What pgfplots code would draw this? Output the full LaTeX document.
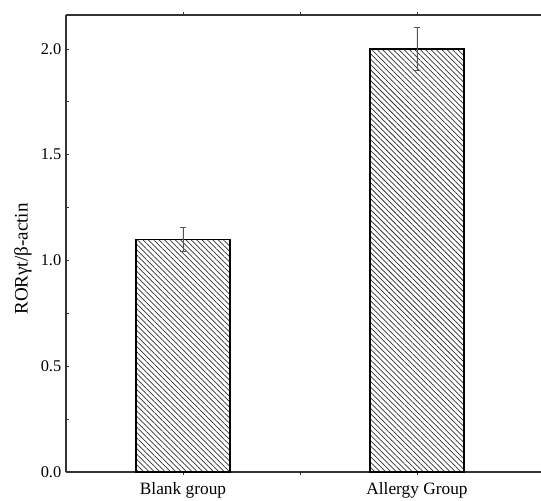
\documentclass[border=0pt]{standalone}
\usepackage{fontspec}
\setmainfont{Liberation Serif}
\usepackage{pgfplots}
\pgfplotsset{compat=1.18}
\usetikzlibrary{patterns.meta}
\definecolor{axgray}{HTML}{333333}
\definecolor{errgray}{HTML}{555555}
\begin{document}
\begin{tikzpicture}
\begin{axis}[
  scale only axis,
  width=356.25pt, height=342.75pt,
  xmin=0, xmax=4.06,
  ymin=0, ymax=2.16,
  axis x line*=box,
  axis y line*=left,
  axis line style={axgray, line width=0.9pt},
  tick align=inside,
  major tick length=2.4pt,
  minor tick length=2pt,
  tick style={axgray, line width=0.5pt},
  xtick={1,2,3},
  xticklabels={Blank group,,Allergy Group},
  xticklabel style={font=\fontsize{13}{15}\selectfont, yshift=-2pt},
  ytick={0,0.5,1,1.5,2},
  minor y tick num=1,
  yticklabel style={font=\fontsize{12.3}{14}\selectfont, /pgf/number format/fixed, /pgf/number format/fixed zerofill, /pgf/number format/precision=1},
  /pgf/number format/assume math mode=true,
  ylabel={RORγt/β-actin},
  ylabel style={font=\fontsize{14.3}{16}\selectfont, at={(ticklabel cs:0.466)}},
  ybar,
  bar width=0.8,
  error bars/y dir=both,
  error bars/y explicit,
  error bars/error bar style={errgray, line width=0.6pt},
  error bars/error mark options={errgray, line width=0.6pt, mark size=2.6pt, rotate=90},
]
\addplot[draw=black, line width=1.1pt, fill=white,
  postaction={pattern={Lines[angle=-45, distance=2.85pt, line width=0.55pt]}, pattern color=black!80}]
  coordinates {(1,1.1) +- (0,0.055) (3,2.0) +- (0,0.1)};
\coordinate (BL) at (rel axis cs:0,0);
\coordinate (TR) at (rel axis cs:1,1);
\end{axis}
\pgfresetboundingbox
\useasboundingbox ([xshift=-49.5pt,yshift=-21pt]BL) rectangle ([yshift=11.25pt]TR);
\end{tikzpicture}
\end{document}
